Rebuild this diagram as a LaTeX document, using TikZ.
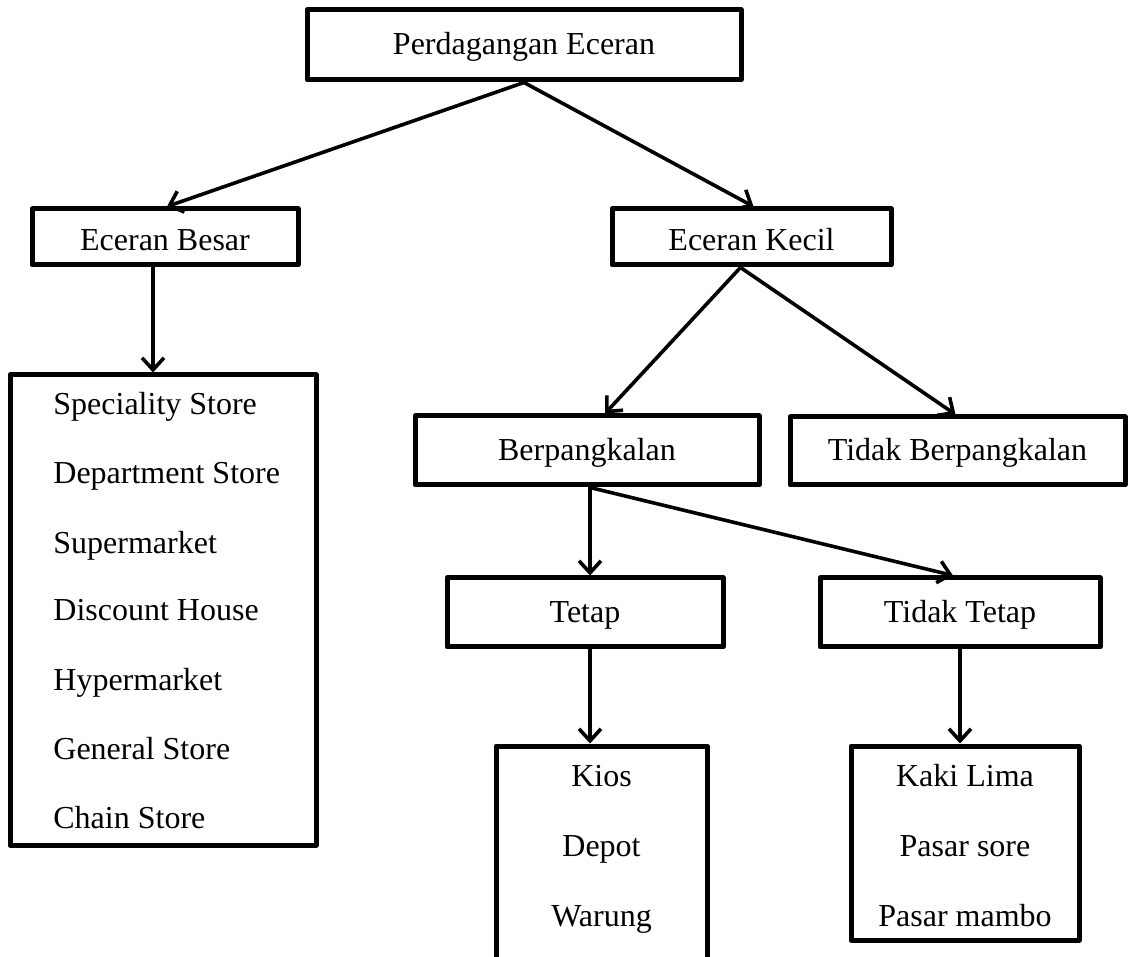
\documentclass[tikz,border=0pt]{standalone}
\usepackage{fontspec}
\setmainfont{Liberation Serif}
\usetikzlibrary{arrows.meta}
\begin{document}
\begin{tikzpicture}[x=0.5pt,y=-0.5pt,
  box/.style={draw, line width=2.5pt, line join=round, rectangle, inner sep=0pt,
    text height=12pt, text depth=2pt, font=\fontsize{16}{19}\selectfont},
  low/.style={text height=14pt, text depth=0pt},
  item/.style={inner sep=0pt, text height=11pt, text depth=3pt,
    font=\fontsize{16}{19}\selectfont},
  arr/.style={line width=1.8pt, -{Straight Barb[length=6pt,width=11pt,line width=1.8pt]}}]
\clip (0,0) rectangle (1137,957);

% top level
\node[box, minimum width=217pt, minimum height=35pt] (pe) at (524,45) {Perdagangan Eceran};

% second level
\node[box, low, minimum width=133pt, minimum height=28pt] (eb) at (165,237) {Eceran Besar};
\node[box, low, minimum width=139.5pt, minimum height=28pt] (ek) at (751.5,237) {Eceran Kecil};

% list of large retailers
\node[box, minimum width=153pt, minimum height=235pt] (lb) at (163,610) {};
\node[item, anchor=west] (l1) at (53,407) {Speciality Store};
\node[item, anchor=west] (l2) at (53,476) {Department Store};
\node[item, anchor=west] (l3) at (53,545) {Supermarket};
\node[item, anchor=west] (l4) at (53,613) {Discount House};
\node[item, anchor=west] (l5) at (53,682) {Hypermarket};
\node[item, anchor=west] (l6) at (53,751) {General Store};
\node[item, anchor=west] (l7) at (53,820) {Chain Store};

% third level
\node[box, minimum width=172pt, minimum height=34.5pt] (bp) at (587,450.5) {Berpangkalan};
\node[box, minimum width=167.5pt, minimum height=34pt] (tb) at (957.5,451) {Tidak Berpangkalan};

% fourth level
\node[box, minimum width=138pt, minimum height=34.5pt] (tp) at (585,612.5) {Tetap};
\node[box, minimum width=140pt, minimum height=34.5pt] (tt) at (960,612.5) {Tidak Tetap};

% small retailers
\node[box, minimum width=105.5pt, minimum height=125pt] (ki) at (601.5,871) {};
\node[item] (k1) at (601.5,778) {Kios};
\node[item] (k2) at (601.5,848) {Depot};
\node[item] (k3) at (601.5,918) {Warung};

\node[box, minimum width=114pt, minimum height=97pt] (ka) at (965,843) {};
\node[item] (p1) at (965,778) {Kaki Lima};
\node[item] (p2) at (965,848) {Pasar sore};
\node[item] (p3) at (965,918) {Pasar mambo};

% connectors
\draw[arr] (pe.south) -- ([xshift=1pt]eb.north);
\draw[arr] (pe.south) -- ([xshift=1pt]ek.north);
\draw[arr] ([xshift=-6pt]eb.south) -- ([xshift=-6pt]eb.south |- lb.north);
\draw[arr] ([xshift=-5.5pt]ek.south) -- ([xshift=9pt]bp.north);
\draw[arr] ([xshift=-5.5pt]ek.south) -- ([xshift=-1pt]tb.north);
\draw[arr] ([xshift=1.5pt]bp.south) -- ([xshift=1.5pt]bp.south |- tp.north);
\draw[arr] ([xshift=1.5pt]bp.south) -- ([xshift=-3.5pt]tt.north);
\draw[arr] ([xshift=2.5pt]tp.south) -- ([xshift=2.5pt]tp.south |- ki.north);
\draw[arr] (tt.south) -- (tt.south |- ka.north);
\end{tikzpicture}
\end{document}
